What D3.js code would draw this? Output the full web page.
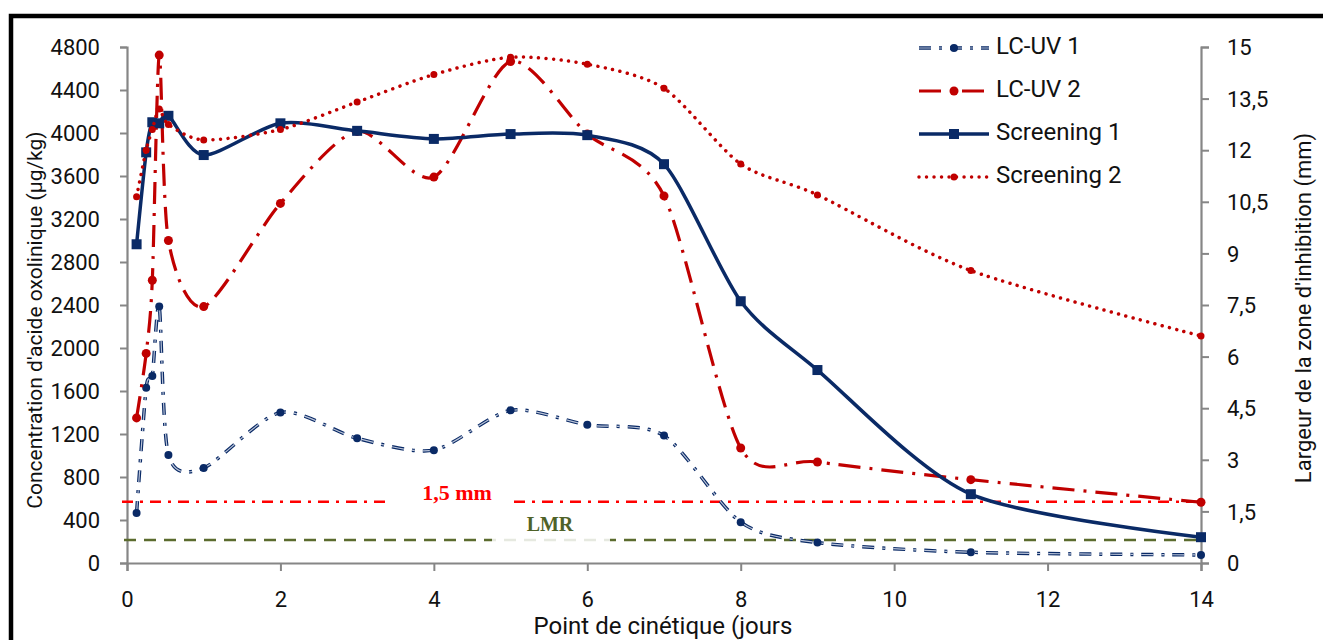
<!DOCTYPE html>
<html>
<head>
<meta charset="utf-8">
<script src="https://cdn.jsdelivr.net/npm/d3@7"></script>
<style>
    body { margin: 0; background: #fff; }
    text { font-family: Roboto, "Liberation Sans", sans-serif; fill: #111; }
</style>
</head>
<body>
<div id="chart"></div>
<script>
// kinetic points (days)
let days = [0.125, 0.25, 0.33, 0.42, 0.54, 1, 2, 3, 4, 5, 6, 7, 8, 9, 11, 14];
// µg/kg, left axis
let lcuv1 = [465, 1630, 1740, 2385, 1005, 884, 1400, 1160, 1050, 1420, 1285, 1185, 380, 190, 100, 75];
let lcuv2 = [1350, 1950, 2630, 4725, 3000, 2385, 3345, 4015, 3590, 4665, 3990, 3415, 1070, 940, 775, 565];
let screening1 = [2965, 3820, 4100, 4090, 4160, 3795, 4090, 4020, 3945, 3990, 3980, 3710, 2435, 1795, 640, 240];
// mm, right axis
let screening2 = [10.65, 12.0, 12.6, 13.2, 12.75, 12.3, 12.6, 13.4, 14.2, 14.7, 14.5, 13.8, 11.6, 10.7, 8.5, 6.6];

let leftTicks = d3.range(0, 4801, 400);
let rightTicks = [0, 1.5, 3, 4.5, 6, 7.5, 9, 10.5, 12, 13.5, 15];
let dayTicks = [0, 2, 4, 6, 8, 10, 12, 14];
let limitMm = 570;   // "1,5 mm" line, read on left axis
let lmr = 215;

let width = 1323, height = 640;
let plot = {left: 127, right: 1201, top: 47, bottom: 563};

let svg = d3.select("#chart")
    .append("svg")
    .attr("width", width)
    .attr("height", height);

// black frame
svg.append("rect")
    .attr("x", 11)
    .attr("y", 16)
    .attr("width", 1340)
    .attr("height", 660)
    .attr("fill", "none")
    .attr("stroke", "#000")
    .attr("stroke-width", 4.5);

let x = d3.scaleLinear().domain([0, 14]).range([plot.left, plot.right]);
let yL = d3.scaleLinear().domain([0, 4800]).range([plot.bottom, plot.top]);
let yR = d3.scaleLinear().domain([0, 15]).range([plot.bottom, plot.top]);

let fmt = d => String(d).replace(".", ",");

let xAxis = d3.axisBottom(x).tickValues(dayTicks).tickSize(8).tickPadding(20);
let leftAxis = d3.axisLeft(yL).tickValues(leftTicks).tickSize(7).tickPadding(20).tickFormat(d3.format("d"));
let rightAxis = d3.axisRight(yR).tickValues(rightTicks).tickSize(8).tickPadding(18).tickFormat(fmt);

function styleAxis(g) {
    g.select(".domain").attr("stroke", "#868686").attr("stroke-width", 2.2);
    g.selectAll(".tick line").attr("stroke", "#868686").attr("stroke-width", 2);
    g.selectAll(".tick text").style("font-size", "22px").attr("fill", "#111");
}

svg.append("g")
    .attr("transform", "translate(0," + plot.bottom + ")")
    .call(xAxis)
    .call(styleAxis);

svg.append("g")
    .attr("transform", "translate(" + plot.left + ",0)")
    .call(leftAxis)
    .call(styleAxis)
    .selectAll(".tick text").attr("dy", "0.35em");

svg.append("g")
    .attr("transform", "translate(" + plot.right + ",0)")
    .call(rightAxis)
    .call(styleAxis)
    .selectAll(".tick text").attr("dy", "0.35em");

// axis titles
svg.append("text")
    .text("Concentration d'acide oxolinique (µg/kg)")
    .attr("transform", "translate(36,320) rotate(-90)")
    .attr("text-anchor", "middle")
    .attr("dominant-baseline", "middle")
    .style("font-size", "21px");

svg.append("text")
    .text("Largeur de la zone d'inhibition (mm)")
    .attr("transform", "translate(1305,308) rotate(-90)")
    .attr("text-anchor", "middle")
    .attr("dominant-baseline", "middle")
    .style("font-size", "22px");

svg.append("text")
    .text("Point de cinétique (jours")
    .attr("x", 663)
    .attr("y", 628)
    .attr("text-anchor", "middle")
    .attr("dominant-baseline", "middle")
    .style("font-size", "24px");

// reference lines
svg.append("line")
    .attr("x1", 122).attr("x2", plot.right)
    .attr("y1", yL(limitMm)).attr("y2", yL(limitMm))
    .attr("stroke", "#ff0000")
    .attr("stroke-width", 2.5)
    .style("stroke-dasharray", "11,7,3,7");

svg.append("line")
    .attr("x1", 124).attr("x2", plot.right)
    .attr("y1", yL(lmr)).attr("y2", yL(lmr))
    .attr("stroke", "#5b6b2e")
    .attr("stroke-width", 2.5)
    .style("stroke-dasharray", "12,8");

svg.append("rect")
    .attr("x", 392).attr("y", 482)
    .attr("width", 122).attr("height", 28)
    .attr("fill", "#fff");

svg.append("text")
    .text("1,5 mm")
    .attr("x", 457)
    .attr("y", yL(limitMm) - 7)
    .attr("text-anchor", "middle")
    .attr("dominant-baseline", "middle")
    .style("font-family", "'Liberation Serif', serif")
    .style("font-weight", "bold")
    .style("font-size", "22px")
    .style("fill", "#ff0000");

svg.append("rect")
    .attr("x", 492).attr("y", 512)
    .attr("width", 118).attr("height", 30)
    .attr("fill", "#fff")
    .attr("opacity", 0.85);

svg.append("text")
    .text("LMR")
    .attr("x", 550)
    .attr("y", 526)
    .attr("text-anchor", "middle")
    .attr("dominant-baseline", "middle")
    .style("font-family", "'Liberation Serif', serif")
    .style("font-weight", "bold")
    .style("font-size", "20px")
    .style("fill", "#4f6228");

let navy = "#0a2a66";
let red = "#c00000";

let series = [
    {name: "LC-UV 1", values: lcuv1, y: yL, color: navy, width: 3.5, dash: "12,8,3,8", marker: "circle", size: 4, hollow: true},
    {name: "LC-UV 2", values: lcuv2, y: yL, color: red, width: 3.2, dash: "22,9,3,9", marker: "circle", size: 4.5},
    {name: "Screening 1", values: screening1, y: yL, color: navy, width: 3.5, dash: null, marker: "square", size: 10},
    {name: "Screening 2", values: screening2, y: yR, color: red, width: 3.5, dash: "0.01,7.5", marker: "circle", size: 3.5, round: true}
];

function drawLine(g, s, path) {
    g.append("path")
        .attr("d", path)
        .attr("fill", "none")
        .attr("stroke", s.color)
        .attr("stroke-width", s.width)
        .attr("stroke-linecap", s.round ? "round" : "butt")
        .style("stroke-dasharray", s.dash);
    if (s.hollow) {
        g.append("path")
            .attr("d", path)
            .attr("fill", "none")
            .attr("stroke", "#b9c3d8")
            .attr("stroke-width", 1.2)
            .style("stroke-dasharray", s.dash);
    }
}

function drawMarker(g, s, cx, cy) {
    if (s.marker == "square") {
        g.append("rect")
            .attr("x", cx - s.size / 2)
            .attr("y", cy - s.size / 2)
            .attr("width", s.size)
            .attr("height", s.size)
            .attr("fill", s.color);
    }
    else {
        g.append("circle")
            .attr("cx", cx)
            .attr("cy", cy)
            .attr("r", s.size)
            .attr("fill", s.color);
    }
}

series.forEach(s => {
    let pts = days.map((d, i) => [x(d), s.y(s.values[i])]);
    let line = d3.line().curve(d3.curveCardinal.tension(0.2));
    let g = svg.append("g");
    drawLine(g, s, line(pts));
    pts.forEach(p => drawMarker(g, s, p[0], p[1]));
});

// legend
let legend = svg.append("g");
series.forEach((s, i) => {
    let ly = 48 + i * 43;
    let g = legend.append("g");
    drawLine(g, s, "M919," + ly + "L989," + ly);
    drawMarker(g, s, 954, ly);
    g.append("text")
        .text(s.name)
        .attr("x", 996)
        .attr("y", ly)
        .attr("dominant-baseline", "middle")
        .style("font-size", "24px");
});
</script>
</body>
</html>
